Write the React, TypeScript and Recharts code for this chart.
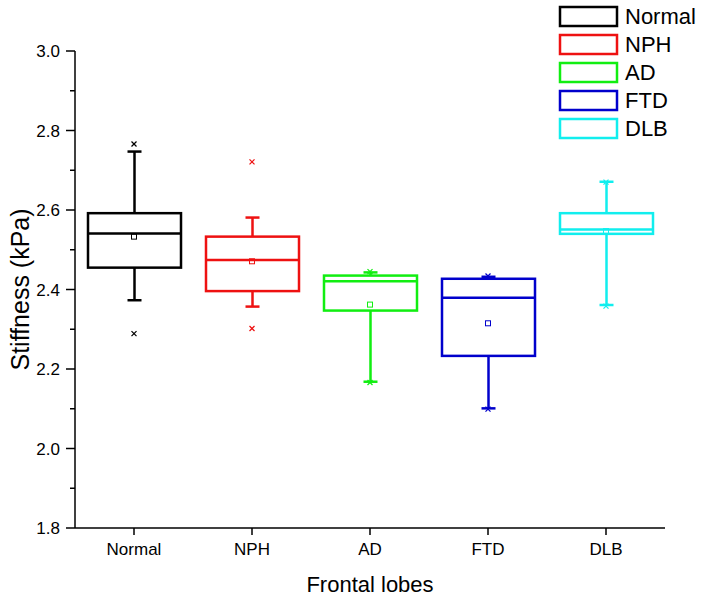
import React from 'react';
import { Bar, ComposedChart, Scatter, XAxis, YAxis } from 'recharts';

const GROUPS = ['Normal', 'NPH', 'AD', 'FTD', 'DLB'];
const COLORS = ['#000000', '#ee1111', '#11ee11', '#0000cc', '#11eeee'];

// Box-and-whisker statistics (kPa)
const WHISKER_LOW = [2.373, 2.357, 2.168, 2.101, 2.361];
const Q1 = [2.455, 2.396, 2.347, 2.233, 2.54];
const MEDIAN = [2.541, 2.474, 2.421, 2.379, 2.551];
const Q3 = [2.592, 2.533, 2.435, 2.427, 2.592];
const WHISKER_HIGH = [2.747, 2.581, 2.443, 2.432, 2.671];
const MEAN = [2.533, 2.471, 2.362, 2.315, 2.547];
const MIN = [2.289, 2.302, 2.166, 2.099, 2.358];
const MAX = [2.766, 2.721, 2.445, 2.434, 2.67];

const Y_TICKS = [1.8, 1.9, 2.0, 2.1, 2.2, 2.3, 2.4, 2.5, 2.6, 2.7, 2.8, 2.9, 3.0];

const FONT = '"Liberation Sans", Arial, sans-serif';

type Row = {
  group: string;
  color: string;
  whiskerLow: number;
  q1: number;
  median: number;
  q3: number;
  whiskerHigh: number;
  mean: number;
  min: number;
  max: number;
};

const rows: Row[] = GROUPS.map((group, i) => ({
  group,
  color: COLORS[i],
  whiskerLow: WHISKER_LOW[i],
  q1: Q1[i],
  median: MEDIAN[i],
  q3: Q3[i],
  whiskerHigh: WHISKER_HIGH[i],
  mean: MEAN[i],
  min: MIN[i],
  max: MAX[i],
}));

// The bar spans whiskerLow..whiskerHigh; other stats are placed inside it on the same linear scale.
function BoxShape(props: any) {
  const { x, y, width, height, payload } = props;
  const p = payload as Row;
  const span = p.whiskerHigh - p.whiskerLow;
  const toY = (v: number) => y + ((p.whiskerHigh - v) / span) * height;
  const cx = x + width / 2;
  const cap = 7;
  const sw = 2.5;
  return (
    <g stroke={p.color} strokeWidth={sw} fill="none">
      <line x1={cx} x2={cx} y1={toY(p.whiskerHigh)} y2={toY(p.q3)} />
      <line x1={cx} x2={cx} y1={toY(p.q1)} y2={toY(p.whiskerLow)} />
      <line x1={cx - cap} x2={cx + cap} y1={toY(p.whiskerHigh)} y2={toY(p.whiskerHigh)} />
      <line x1={cx - cap} x2={cx + cap} y1={toY(p.whiskerLow)} y2={toY(p.whiskerLow)} />
      <rect x={x} y={toY(p.q3)} width={width} height={toY(p.q1) - toY(p.q3)} />
      <line x1={x} x2={x + width} y1={toY(p.median)} y2={toY(p.median)} />
    </g>
  );
}

function MeanShape(props: any) {
  const { cx, cy, payload } = props;
  return (
    <rect x={cx - 2.5} y={cy - 2.5} width={5} height={5} fill="none" stroke={payload.color} strokeWidth={1} />
  );
}

function CrossShape(props: any) {
  const { cx, cy, payload } = props;
  const s = 2.5;
  return (
    <g stroke={payload.color} strokeWidth={1.2}>
      <line x1={cx - s} x2={cx + s} y1={cy - s} y2={cy + s} />
      <line x1={cx - s} x2={cx + s} y1={cy + s} y2={cy - s} />
    </g>
  );
}

function YTick(props: any) {
  const { x, y, payload } = props;
  const v = payload.value as number;
  const major = Math.round(v * 10) % 2 === 0;
  return (
    <g>
      <line x1={x - (major ? 9 : 5)} x2={x} y1={y} y2={y} stroke="#000" strokeWidth={1.5} />
      {major && (
        <text x={x - 15} y={y} dy={6} textAnchor="end" fontSize={17} fill="#000" fontFamily={FONT}>
          {v.toFixed(1)}
        </text>
      )}
    </g>
  );
}

function Legend() {
  return (
    <div style={styles.legend}>
      {GROUPS.map((g, i) => (
        <div key={g} style={styles.legendRow}>
          <svg width={62} height={24} style={{ display: 'block' }}>
            <rect x={2} y={2} width={57} height={19} fill="none" stroke={COLORS[i]} strokeWidth={2.5} />
          </svg>
          <span style={styles.legendText}>{g}</span>
        </div>
      ))}
    </div>
  );
}

export default function App() {
  return (
    <div style={styles.page}>
      <ComposedChart
        width={702}
        height={597}
        data={rows}
        margin={{ top: 51, right: 37, bottom: 0, left: 0 }}
      >
        <XAxis
          dataKey="group"
          type="category"
          height={69}
          tickSize={7}
          tickMargin={8}
          tick={{ fontSize: 17, fill: '#000', fontFamily: FONT }}
          tickLine={{ stroke: '#000', strokeWidth: 1.5 }}
          axisLine={{ stroke: '#000', strokeWidth: 1.5 }}
          label={{
            value: 'Frontal lobes',
            position: 'insideBottom',
            offset: 5,
            style: { fontSize: 22, fill: '#000', fontFamily: FONT },
          }}
        />
        <YAxis
          domain={[1.8, 3.0]}
          allowDataOverflow
          ticks={Y_TICKS}
          interval={0}
          width={75}
          tickSize={0}
          tickMargin={0}
          tickLine={false}
          tick={<YTick />}
          axisLine={{ stroke: '#000', strokeWidth: 1.5 }}
          label={{
            value: 'Stiffness (kPa)',
            angle: -90,
            position: 'insideLeft',
            offset: 20,
            style: { fontSize: 25, fill: '#000', fontFamily: FONT, textAnchor: 'middle' },
          }}
        />
        <Bar
          dataKey={(d: Row) => [d.whiskerLow, d.whiskerHigh]}
          barSize={93}
          shape={BoxShape}
          isAnimationActive={false}
        />
        <Scatter dataKey="mean" shape={MeanShape} isAnimationActive={false} />
        <Scatter dataKey="max" shape={CrossShape} isAnimationActive={false} />
        <Scatter dataKey="min" shape={CrossShape} isAnimationActive={false} />
      </ComposedChart>
      <Legend />
    </div>
  );
}

const styles: Record<string, React.CSSProperties> = {
  page: {
    position: 'absolute',
    left: 0,
    top: 0,
    width: 702,
    height: 597,
    background: '#ffffff',
    fontFamily: FONT,
  },
  legend: {
    position: 'absolute',
    left: 558,
    top: 3,
  },
  legendRow: {
    display: 'flex',
    alignItems: 'center',
    height: 28,
    marginTop: 0,
  },
  legendText: {
    fontSize: 22,
    marginLeft: 5,
    color: '#000',
    lineHeight: '24px',
  },
};
